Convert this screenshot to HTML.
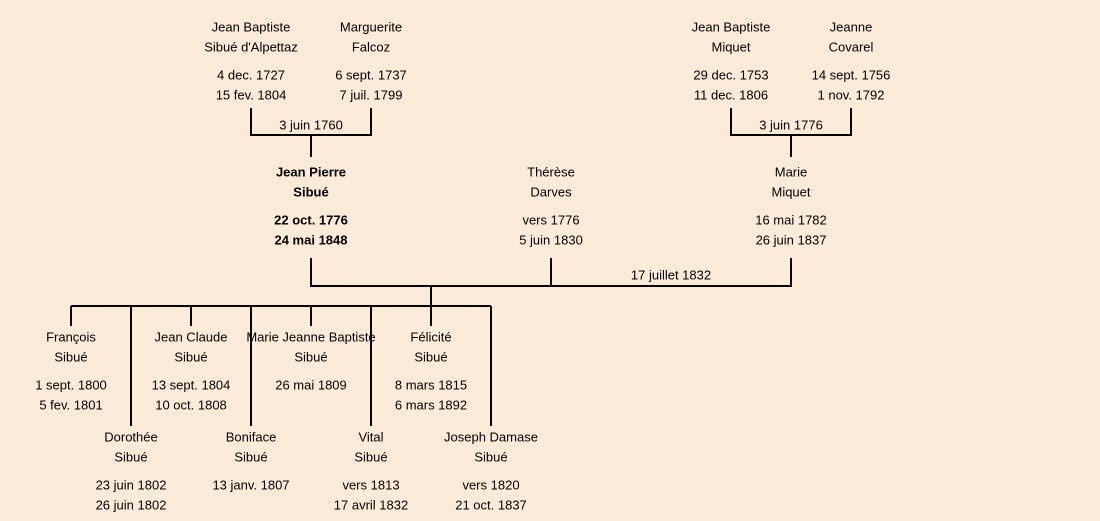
<!DOCTYPE html>
<html><head><meta charset="utf-8"><style>
html,body{margin:0;padding:0;background:#FBEBD8;}
svg{display:block}
text{font-family:"Liberation Sans",sans-serif;font-size:13px;fill:#000;text-anchor:middle;dominant-baseline:central}
.b{font-weight:bold}
</style></head><body>
<svg width="1100" height="521" viewBox="0 0 1100 521">
<rect width="1100" height="521" fill="#FBEBD8"/>
<g stroke="#000" stroke-width="2" fill="none">
<path d="M251 108V135H371V108M311 135V157"/>
<path d="M731 108V135H851V108M791 135V157"/>
<path d="M311 258V286H791V258M551 258V286M431 286V306"/>
<path d="M71 306H491"/>
<path d="M71 306V326M191 306V326M311 306V326M431 306V326"/>
<path d="M131 306V426M251 306V426M371 306V426M491 306V426"/>
</g>
<text x="251" y="27">Jean Baptiste</text><text x="251" y="47">Sibué d'Alpettaz</text>
<text x="251" y="75">4 dec. 1727</text><text x="251" y="95">15 fev. 1804</text>
<text x="371" y="27">Marguerite</text><text x="371" y="47">Falcoz</text>
<text x="371" y="75">6 sept. 1737</text><text x="371" y="95">7 juil. 1799</text>
<text x="311" y="125">3 juin 1760</text>
<text x="731" y="27">Jean Baptiste</text><text x="731" y="47">Miquet</text>
<text x="731" y="75">29 dec. 1753</text><text x="731" y="95">11 dec. 1806</text>
<text x="851" y="27">Jeanne</text><text x="851" y="47">Covarel</text>
<text x="851" y="75">14 sept. 1756</text><text x="851" y="95">1 nov. 1792</text>
<text x="791" y="125">3 juin 1776</text>
<text class="b" x="311" y="172">Jean Pierre</text><text class="b" x="311" y="192">Sibué</text>
<text class="b" x="311" y="220">22 oct. 1776</text><text class="b" x="311" y="240">24 mai 1848</text>
<text x="551" y="172">Thérèse</text><text x="551" y="192">Darves</text>
<text x="551" y="220">vers 1776</text><text x="551" y="240">5 juin 1830</text>
<text x="791" y="172">Marie</text><text x="791" y="192">Miquet</text>
<text x="791" y="220">16 mai 1782</text><text x="791" y="240">26 juin 1837</text>
<text x="671" y="275">17 juillet 1832</text>
<text x="71" y="337">François</text><text x="71" y="357">Sibué</text>
<text x="71" y="385">1 sept. 1800</text><text x="71" y="405">5 fev. 1801</text>
<text x="191" y="337">Jean Claude</text><text x="191" y="357">Sibué</text>
<text x="191" y="385">13 sept. 1804</text><text x="191" y="405">10 oct. 1808</text>
<text x="311" y="337">Marie Jeanne Baptiste</text><text x="311" y="357">Sibué</text>
<text x="311" y="385">26 mai 1809</text>
<text x="431" y="337">Félicité</text><text x="431" y="357">Sibué</text>
<text x="431" y="385">8 mars 1815</text><text x="431" y="405">6 mars 1892</text>
<text x="131" y="437">Dorothée</text><text x="131" y="457">Sibué</text>
<text x="131" y="485">23 juin 1802</text><text x="131" y="505">26 juin 1802</text>
<text x="251" y="437">Boniface</text><text x="251" y="457">Sibué</text>
<text x="251" y="485">13 janv. 1807</text>
<text x="371" y="437">Vital</text><text x="371" y="457">Sibué</text>
<text x="371" y="485">vers 1813</text><text x="371" y="505">17 avril 1832</text>
<text x="491" y="437">Joseph Damase</text><text x="491" y="457">Sibué</text>
<text x="491" y="485">vers 1820</text><text x="491" y="505">21 oct. 1837</text>
</svg>
</body></html>
